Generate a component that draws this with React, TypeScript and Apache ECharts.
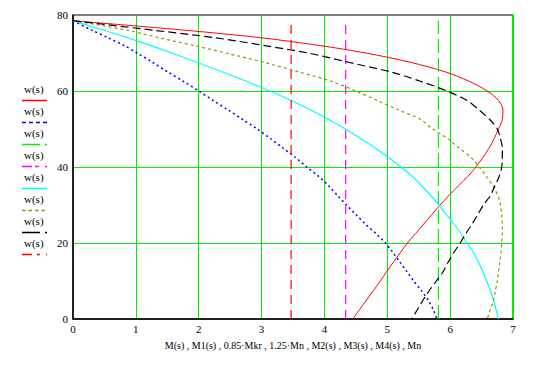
import React, { useEffect, useRef } from "react";
import * as echarts from "echarts";

// shared deflection values w(s)
const wValues = [78.5, 76, 74, 72, 70, 67.5, 65, 62.5, 60, 57.5, 55, 52.5, 50, 47.5, 45, 42.5, 40, 37.5, 35, 32.5, 30, 27.5, 25, 22.5, 20, 17.5, 15, 12.5, 10, 7.5, 5, 2.5, 0];

// moments at each w
const M = [0, 1.78, 3.0, 3.91, 4.66, 5.38, 5.93, 6.31, 6.59, 6.77, 6.84, 6.83, 6.77, 6.7, 6.62, 6.52, 6.41, 6.28, 6.13, 5.98, 5.84, 5.71, 5.58, 5.45, 5.32, 5.21, 5.10, 4.99, 4.89, 4.78, 4.67, 4.56, 4.45];
const M1 = [0, 0.3, 0.56, 0.81, 1.02, 1.27, 1.51, 1.76, 2.0, 2.23, 2.47, 2.7, 2.93, 3.14, 3.34, 3.54, 3.72, 3.91, 4.07, 4.21, 4.35, 4.5, 4.65, 4.82, 4.97, 5.09, 5.2, 5.31, 5.42, 5.54, 5.65, 5.73, 5.79];
const M2 = [0, 0.49, 0.87, 1.23, 1.57, 1.98, 2.38, 2.77, 3.13, 3.47, 3.78, 4.07, 4.33, 4.58, 4.81, 5.02, 5.22, 5.4, 5.55, 5.69, 5.82, 5.94, 6.06, 6.17, 6.27, 6.37, 6.45, 6.52, 6.58, 6.64, 6.69, 6.73, 6.77];
const M3 = [0, 0.86, 1.37, 1.92, 2.43, 3.05, 3.6, 4.12, 4.5, 4.84, 5.18, 5.53, 5.72, 5.96, 6.14, 6.33, 6.46, 6.58, 6.68, 6.76, 6.8, 6.82, 6.83, 6.83, 6.82, 6.81, 6.79, 6.77, 6.75, 6.72, 6.69, 6.64, 6.59];
const M4 = [0, 1.28, 2.27, 3.03, 3.74, 4.4, 5.06, 5.54, 5.95, 6.27, 6.46, 6.63, 6.75, 6.8, 6.83, 6.83, 6.82, 6.78, 6.71, 6.64, 6.53, 6.44, 6.35, 6.25, 6.16, 6.06, 5.97, 5.89, 5.78, 5.67, 5.57, 5.48, 5.39];

// constant moments
const Mn = 3.47;
const Mkr = 6.84;
const wMax = 78.5;

const legendLabels = ["w(s)", "w(s)", "w(s)", "w(s)", "w(s)", "w(s)", "w(s)", "w(s)"];
const xTitle = "M(s) , M1(s) , 0.85·Mkr , 1.25·Mn , M2(s) , M3(s) , M4(s) , Mn";

const FONT = "'Liberation Serif', 'Times New Roman', serif";
const GRID_GREEN = "#00ee00";

const traces = [
  { color: "#ff0000", dash: "solid" as any, width: 1, legendDash: null as number[] | null },
  { color: "#0000ff", dash: [2, 3], width: 1.5, legendDash: [4, 3] },
  { color: "#00ee00", dash: [14, 5], width: 1.2, legendDash: [18, 5, 2, 10] },
  { color: "#ff00ff", dash: [9, 6], width: 1.2, legendDash: [10, 3, 4, 6, 2, 10] },
  { color: "#00ffff", dash: "solid", width: 1.2, legendDash: null },
  { color: "#8c9600", dash: [3, 3], width: 1.2, legendDash: [3.5, 3] },
  { color: "#000000", dash: [8, 4], width: 1.2, legendDash: [18, 5, 2, 10] },
  { color: "#ff0000", dash: [9, 6], width: 1.2, legendDash: [10, 5, 3, 6, 1, 10] },
];

const pairs = (xs: number[]) => xs.map((x, i) => [x, wValues[i]]);
const vertical = (x: number) => [[x, 0], [x, wMax]];

export default function App() {
  const ref = useRef<HTMLDivElement>(null);
  useEffect(() => {
    if (!ref.current) return;
    const chart = echarts.init(ref.current, undefined, { renderer: "svg" });
    const dataSets = [
      pairs(M),
      pairs(M1),
      vertical(0.85 * Mkr),
      vertical(1.25 * Mn),
      pairs(M2),
      pairs(M3),
      pairs(M4),
      vertical(Mn),
    ];
    const isCurve = [true, true, false, false, true, true, true, false];
    const series = dataSets.map((d, i) => ({
      type: "line",
      data: d,
      symbol: "none",
      smooth: isCurve[i] ? 0.3 : false,
      lineStyle: { color: traces[i].color, width: traces[i].width, type: traces[i].dash },
      z: 3,
    }));

    const legendGraphics: any[] = [];
    legendLabels.forEach((lab, i) => {
      legendGraphics.push({
        type: "text",
        left: 24,
        top: 83 + 22 * i,
        style: { text: lab, font: `11px ${FONT}`, fill: "#000" },
      });
      legendGraphics.push({
        type: "line",
        shape: { x1: 22, y1: 100.5 + 22 * i, x2: 47, y2: 100.5 + 22 * i },
        style: {
          stroke: traces[i].color,
          lineWidth: 1.5,
          lineDash: traces[i].legendDash || undefined,
        },
      });
    });

    chart.setOption({
      animation: false,
      grid: { left: 73, right: 31, top: 15, bottom: 50, show: true, borderColor: "#000", borderWidth: 1, backgroundColor: "transparent" },
      xAxis: {
        type: "value",
        min: 0,
        max: 7,
        interval: 1,
        axisLine: { show: true, onZero: false, lineStyle: { color: "#000", width: 1.5 } },
        axisTick: { show: false },
        axisLabel: { fontFamily: FONT, fontSize: 11, color: "#000", margin: 4 },
        splitLine: { show: true, showMinLine: false, lineStyle: { color: GRID_GREEN, width: 1 } },
        name: xTitle,
        nameLocation: "middle",
        nameGap: 21,
        nameTextStyle: { fontFamily: FONT, fontSize: 10, color: "#000" },
      },
      yAxis: [
        {
          type: "value",
          min: 0,
          max: 80,
          interval: 20,
          axisLine: { show: true, onZero: false, lineStyle: { color: "#000", width: 1.5 } },
          axisTick: { show: false },
          axisLabel: { fontFamily: FONT, fontSize: 11, color: "#000", margin: 5 },
          splitLine: { show: true, showMinLine: false, showMaxLine: false, lineStyle: { color: GRID_GREEN, width: 1 } },
        },
        {
          type: "value",
          min: 0,
          max: 80,
          position: "right",
          axisLine: { show: true, onZero: false, lineStyle: { color: GRID_GREEN, width: 2 } },
          axisTick: { show: false },
          axisLabel: { show: false },
          splitLine: { show: false },
        },
      ],
      series,
      graphic: legendGraphics,
    });
    return () => chart.dispose();
  }, []);
  return <div ref={ref} style={{ position: "absolute", left: 0, top: 0, width: 544, height: 369, background: "#fff" }} />;
}
